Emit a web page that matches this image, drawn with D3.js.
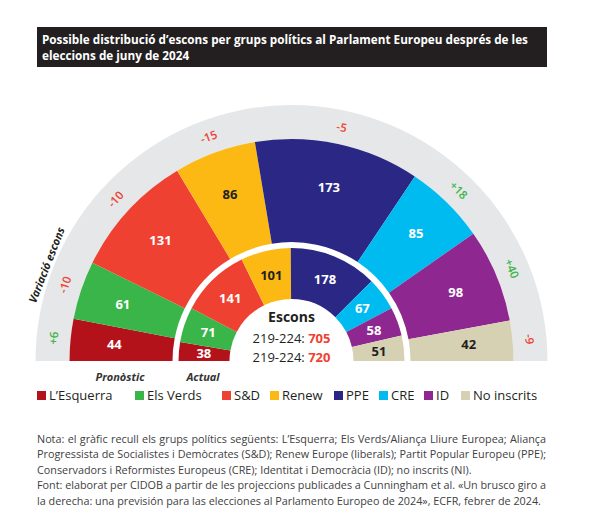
<!DOCTYPE html>
<html><head><meta charset="utf-8">
<script src="https://cdn.jsdelivr.net/npm/d3@7"></script>
<style>
body{margin:0;background:#fff}
svg text{font-family:"Open Sans",sans-serif}
</style>
</head><body>
<svg id="c" width="600" height="512"></svg>
<script>
// ---------- data ----------
const groups = ["L’Esquerra", "Els Verds", "S&D", "Renew", "PPE", "CRE", "ID", "No inscrits"];
const forecast = [44, 61, 131, 86, 173, 85, 98, 42];   // Pronòstic (outer ring)
const current  = [38, 71, 141, 101, 178, 67, 58, 51];  // Actual (inner ring)
const variation = [6, -10, -10, -15, -5, 18, 40, -9];  // Variació escons
const colors = ["#B3121B", "#3AB54A", "#EF4131", "#FDB913", "#2A2884", "#00BBEF", "#8E278F", "#D6D1B2"];
const darkLabel = [false, false, false, true, false, false, false, true];
const seatRows = [{range: "219-224", total: 705}, {range: "219-224", total: 720}];
const titleLines = [
  "Possible distribució d’escons per grups polítics al Parlament Europeu després de les",
  "eleccions de juny de 2024"
];
const noteLines = [
  "Nota: el gràfic recull els grups polítics següents: L’Esquerra; Els Verds/Aliança Lliure Europea; Aliança",
  "Progressista de Socialistes i Demòcrates (S&D); Renew Europe (liberals); Partit Popular Europeu (PPE);",
  "Conservadors i Reformistes Europeus (CRE); Identitat i Democràcia (ID); no inscrits (NI).",
  "Font: elaborat per CIDOB a partir de les projeccions publicades a Cunningham et al. «Un brusco giro a",
  "la derecha: una previsión para las elecciones al Parlamento Europeo de 2024», ECFR, febrer de 2024."
];
const justified = [true, true, false, true, false];

// ---------- layout ----------
const legendX = [37, 135, 222, 270, 334, 379, 424, 461];
const cx = 291.5, cy = 361;
const R = {band: 256, outerO: 222, outerI: 119, innerO: 113, innerI: 62,
           outerLbl: 178, innerLbl: 88, varLbl: 239};

const svg = d3.select("#c");

// title
svg.append("rect").attr("x", 37).attr("y", 27).attr("width", 510).attr("height", 40).attr("fill", "#231F20");
const tt = svg.append("g");
titleLines.forEach((t, i) => {
  tt.append("text").attr("x", 42).attr("y", 44 + i * 16).attr("fill", "#fff")
    .attr("font-weight", 700).attr("font-size", 12).text(t);
});
{
  const w = tt.select("text").node().getComputedTextLength();
  const fs = 12 * 486 / w;
  tt.selectAll("text").attr("font-size", fs);
}

// semicircle
const g = svg.append("g").attr("transform", `translate(${cx},${cy})`);
const half = {startAngle: -Math.PI / 2, endAngle: Math.PI / 2};
g.append("path").attr("d", d3.arc().innerRadius(0).outerRadius(R.band)(half)).attr("fill", "#E6E7E8");
g.append("path").attr("d", d3.arc().innerRadius(0).outerRadius(R.outerO)(half)).attr("fill", "#fff");

const pie = d3.pie().sort(null).value(d => d).startAngle(-Math.PI / 2).endAngle(Math.PI / 2);
const outerArcs = pie(forecast), innerArcs = pie(current);
const arcOuter = d3.arc().innerRadius(R.outerI).outerRadius(R.outerO);
const arcInner = d3.arc().innerRadius(R.innerI).outerRadius(R.innerO);

g.selectAll("path.o").data(outerArcs).join("path").attr("class", "o")
  .attr("d", arcOuter).attr("fill", (d, i) => colors[i]);
g.selectAll("path.i").data(innerArcs).join("path").attr("class", "i")
  .attr("d", arcInner).attr("fill", (d, i) => colors[i]);

const mid = d => (d.startAngle + d.endAngle) / 2;
const polar = (a, r) => [r * Math.sin(a), -r * Math.cos(a)];

g.selectAll("text.ol").data(outerArcs).join("text").attr("class", "ol")
  .attr("transform", d => `translate(${polar(mid(d), R.outerLbl)})`)
  .attr("text-anchor", "middle").attr("dy", "0.36em")
  .attr("font-size", 13).attr("font-weight", 700)
  .attr("fill", (d, i) => darkLabel[i] ? "#231F20" : "#fff")
  .text(d => d.data);

g.selectAll("text.il").data(innerArcs).join("text").attr("class", "il")
  .attr("transform", d => `translate(${polar(mid(d), R.innerLbl)})`)
  .attr("text-anchor", "middle").attr("dy", "0.36em")
  .attr("font-size", 13).attr("font-weight", 700)
  .attr("fill", (d, i) => darkLabel[i] ? "#231F20" : "#fff")
  .text(d => d.data);

g.selectAll("text.vl").data(outerArcs).join("text").attr("class", "vl")
  .attr("transform", (d, i) => `translate(${polar(mid(d), R.varLbl)}) rotate(${mid(d) * 180 / Math.PI})`)
  .attr("text-anchor", "middle").attr("dy", "0.36em")
  .attr("font-size", 11.5).attr("font-weight", 600)
  .attr("fill", (d, i) => variation[i] > 0 ? "#3AB54A" : "#EF4131")
  .text((d, i) => (variation[i] > 0 ? "+" : "") + variation[i]);

// axis title along band
{
  const a = -68.6 * Math.PI / 180;
  g.append("text")
    .attr("transform", `translate(${polar(a, 263)}) rotate(${a * 180 / Math.PI})`)
    .attr("text-anchor", "middle").attr("dy", "0.36em")
    .attr("font-size", 11).attr("font-weight", 700).attr("font-style", "italic")
    .attr("fill", "#231F20").text("Variació escons");
}

// center seats
g.append("text").attr("x", 0).attr("y", -39).attr("text-anchor", "middle")
  .attr("font-size", 14).attr("font-weight", 700).attr("fill", "#231F20").text("Escons");
seatRows.forEach((r, i) => {
  const t = g.append("text").attr("x", 0).attr("y", -18 + i * 19).attr("text-anchor", "middle")
    .attr("font-size", 13).attr("fill", "#231F20");
  t.append("tspan").text(r.range + ": ");
  t.append("tspan").attr("font-weight", 700).attr("fill", "#EF4131").text(r.total);
});

// ring labels
[["Pronòstic", 120], ["Actual", 203]].forEach(([t, x]) => {
  svg.append("text").attr("x", x).attr("y", 381).attr("text-anchor", "middle")
    .attr("font-size", 11).attr("font-weight", 700).attr("font-style", "italic")
    .attr("fill", "#333").text(t);
});

// legend
const lg = svg.append("g");
groups.forEach((name, i) => {
  lg.append("rect").attr("x", legendX[i]).attr("y", 391).attr("width", 9).attr("height", 9).attr("fill", colors[i]);
  lg.append("text").attr("x", legendX[i] + 12).attr("y", 400).attr("font-size", 13)
    .attr("fill", "#231F20").text(name);
});

// notes
const ng = svg.append("g");
const nt = noteLines.map((t, i) => ng.append("text").attr("x", 37).attr("y", 443 + i * 15.4)
  .attr("font-size", 11).attr("fill", "#414042").text(t));
{
  const w5 = nt[4].node().getComputedTextLength();
  const fs = 11 * 505 / w5;
  nt.forEach(t => t.attr("font-size", fs));
  nt.forEach((t, i) => {
    if (!justified[i]) return;
    const w = t.node().getComputedTextLength();
    const spaces = (noteLines[i].match(/ /g) || []).length;
    t.style("word-spacing", ((509 - w) / spaces) + "px");
  });
}
</script>
</body></html>
